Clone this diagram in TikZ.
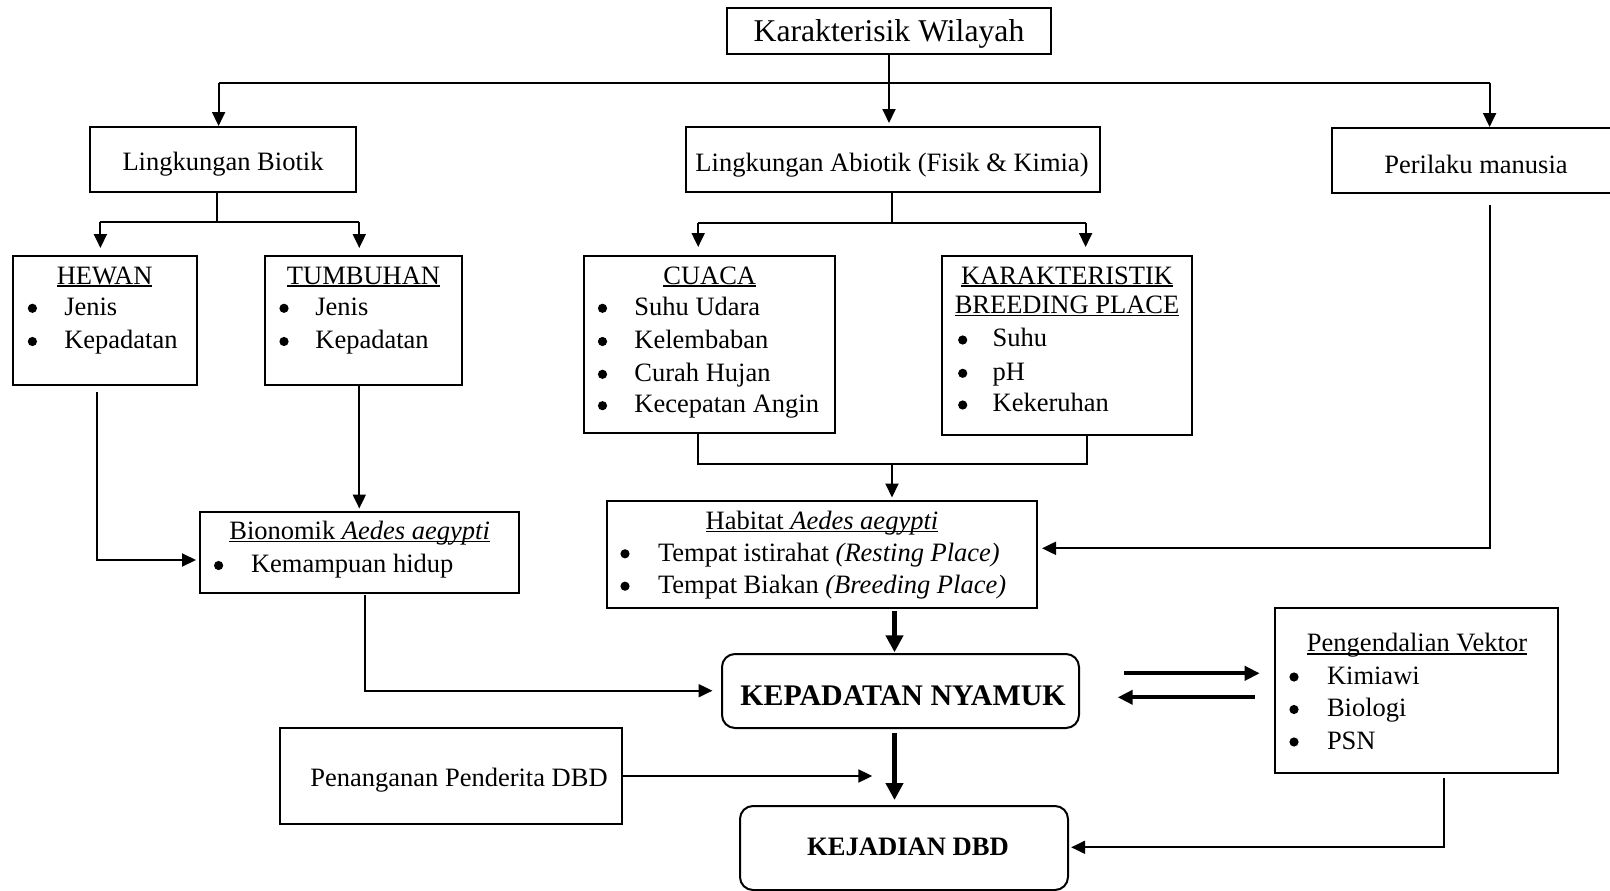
\documentclass[tikz,border=0pt]{standalone}
\usepackage{fontspec}
\setmainfont{Liberation Serif}
\usetikzlibrary{arrows.meta,fit}
\newcommand{\myul}[1]{\setbox0\hbox{#1}\rlap{\rule[-0.12em]{\wd0}{0.07em}}\box0}
\begin{document}
\begin{tikzpicture}[x=1pt,y=-1pt,
  box/.style={draw, line width=2pt, inner sep=0pt, outer sep=0pt},
  rbox/.style={box, rounded corners=13pt},
  txt/.style={inner sep=0pt, outer sep=0pt, anchor=base, font=\fontsize{26.5}{32}\selectfont},
  ltxt/.style={txt, anchor=base west},
  ln/.style={line width=2pt},
  arr/.style={line width=2pt, -{Triangle[length=14pt,width=13pt]}},
  thk/.style={line width=4.8pt, -{Triangle[length=17pt,width=17pt]}},
  thkh/.style={line width=4pt, -{Triangle[length=15pt,width=14pt]}}
]
\fill[white] (0,0) rectangle (1610,891);
\useasboundingbox (0,0) rectangle (1610,891);

% ---------- boxes ----------
\node[box, fit={(727,8)(1051,54)}] (title) {};
\node[box, fit={(90,127)(356,192)}] (biotik) {};
\node[box, fit={(686,127)(1100,192)}] (abiotik) {};
\node[box, fit={(1332,128)(1622,193)}] (perilaku) {};
\node[box, fit={(13,256)(197,385)}] (hewan) {};
\node[box, fit={(265,256)(462,385)}] (tumbuhan) {};
\node[box, fit={(584,256)(835,433)}] (cuaca) {};
\node[box, fit={(942,256)(1192,435)}] (karak) {};
\node[box, fit={(200,512)(519,593)}] (bionomik) {};
\node[box, fit={(607,501)(1037,608)}] (habitat) {};
\node[rbox, fit={(722,654)(1079,728)}] (kepadatan) {};
\node[box, fit={(1275,608)(1558,773)}] (pengendalian) {};
\node[box, fit={(280,728)(622,824)}] (penanganan) {};
\node[rbox, fit={(740,806)(1068,890)}] (kejadian) {};

% ---------- single-line texts ----------
\node[txt, font=\fontsize{31.7}{38}\selectfont] (t-title) at (889,42) {Karakterisik Wilayah};
\node[txt] (t-biotik) at (223,170) {Lingkungan Biotik};
\node[txt] (t-abiotik) at (892,171) {Lingkungan Abiotik (Fisik \& Kimia)};
\node[txt] (t-perilaku) at (1476,173) {Perilaku manusia};
\node[txt] (t-penanganan) at (459,786) {Penanganan Penderita DBD};
\node[txt, font=\fontsize{29.9}{36}\selectfont\bfseries] (t-kepadatan) at (903,705) {KEPADATAN NYAMUK};
\node[txt, font=\fontsize{26.6}{32}\selectfont\bfseries] (t-kejadian) at (908,855) {KEJADIAN DBD};

% ---------- list boxes ----------
\node[txt] (t-hewan) at (104.6,284) {\myul{HEWAN}};
\node[ltxt] (h1) at (64.3,315) {Jenis};
\node[ltxt] (h2) at (64.3,348.5) {Kepadatan};

\node[txt] (t-tumbuhan) at (363.5,284) {\myul{TUMBUHAN}};
\node[ltxt] (tb1) at (315.4,315) {Jenis};
\node[ltxt] (tb2) at (315.4,348.5) {Kepadatan};

\node[txt] (t-cuaca) at (709.7,284) {\myul{CUACA}};
\node[ltxt] (c1) at (634.4,315) {Suhu Udara};
\node[ltxt] (c2) at (634.4,348) {Kelembaban};
\node[ltxt] (c3) at (634.4,381) {Curah Hujan};
\node[ltxt] (c4) at (634.4,412.7) {Kecepatan Angin};

\node[txt] (t-karak1) at (1067,284) {\myul{KARAKTERISTIK}};
\node[txt] (t-karak2) at (1067,313.3) {\myul{BREEDING PLACE}};
\node[ltxt] (k1) at (992.7,346.7) {Suhu};
\node[ltxt] (k2) at (992.7,380) {pH};
\node[ltxt] (k3) at (992.7,411.7) {Kekeruhan};

\node[txt] (t-bionomik) at (359.6,539.3) {\myul{Bionomik \textit{Aedes aegypti}}};
\node[ltxt] (b1) at (251,572.7) {Kemampuan hidup};

\node[txt] (t-habitat) at (822,529.3) {\myul{Habitat \textit{Aedes aegypti}}};
\node[ltxt] (hb1) at (658,561) {Tempat istirahat \textit{(Resting Place)}};
\node[ltxt] (hb2) at (658,593.3) {Tempat Biakan \textit{(Breeding Place)}};

\node[txt] (t-pengendalian) at (1417,651.7) {\myul{Pengendalian Vektor}};
\node[ltxt] (p1) at (1327,684.3) {Kimiawi};
\node[ltxt] (p2) at (1327,716.7) {Biologi};
\node[ltxt] (p3) at (1327,749.3) {PSN};

% bullets
\foreach \bx/\by in {32.4/308.3, 32.4/341.5, 284/308.3, 284/341.5,
  602.5/308.3, 602.5/341.5, 602.5/374.3, 602.5/405.7,
  962.7/340, 962.7/373.3, 962.7/405,
  218.6/565.5, 625/553.8, 625/586.2,
  1294/677, 1294/709.5, 1294/742}
  \fill (\bx,\by) circle (4.6pt);

% ---------- connectors ----------
\coordinate (hl) at (218.6,83);
\coordinate (hr) at (1489.6,83);
\draw[ln] (hl) -- (hr);
\draw[arr, shorten >=1pt] (hl) -- (hl |- biotik.north);
\draw[arr, shorten >=4pt] (title.south) -- (title.south |- abiotik.north);
\draw[arr, shorten >=1pt] (hr) -- (hr |- perilaku.north);

\coordinate (bj) at (217,222);
\coordinate (bl) at (100.4,222);
\coordinate (br) at (359.3,222);
\draw[ln] (bj |- biotik.south) -- (bj);
\draw[ln] (bl) -- (br);
\draw[arr, shorten >=8pt] (bl) -- (bl |- hewan.north);
\draw[arr, shorten >=8pt] (br) -- (br |- tumbuhan.north);

\coordinate (aj) at (892,223.3);
\coordinate (al) at (698.2,223.3);
\coordinate (ar) at (1085.6,223.3);
\draw[ln] (aj |- abiotik.south) -- (aj);
\draw[ln] (al) -- (ar);
\draw[arr, shorten >=9pt] (al) -- (al |- cuaca.north);
\draw[arr, shorten >=9pt] (ar) -- (ar |- karak.north);

\coordinate (jl) at (698.2,464);
\coordinate (jr) at (1086.7,464);
\coordinate (jm) at (892,464);
\draw[ln] (jl |- cuaca.south) -- (jl) -- (jr) -- (jr |- karak.south);
\draw[arr, shorten >=3.5pt] (jm) -- (jm |- habitat.north);

\coordinate (pc) at (1489.6,548.3);
\draw[arr, shorten <=12pt, shorten >=5pt] (pc |- perilaku.south) -- (pc) -- (pc -| habitat.east);

\coordinate (hc) at (97.3,560);
\draw[arr, shorten <=6.7pt, shorten >=4pt] (hc |- hewan.south) -- (hc) -- (hc -| bionomik.west);

\coordinate (tc) at (359.3,450);
\draw[arr, shorten >=3.5pt] (tc |- tumbuhan.south) -- (tc |- bionomik.north);

\coordinate (bc) at (364.5,690.7);
\draw[arr, shorten <=2pt, shorten >=9.5pt] (bc |- bionomik.south) -- (bc) -- (bc -| kepadatan.west);

\coordinate (kc) at (894.5,690);
\draw[thk, shorten <=2.7pt, shorten >=1.7pt] (kc |- habitat.south) -- (kc |- kepadatan.north);
\draw[thk, shorten <=4.7pt, shorten >=6pt] (kc |- kepadatan.south) -- (kc |- kejadian.north);

\coordinate (u1) at (1200,673.3);
\coordinate (l1) at (1200,697.3);
\draw[thkh, shorten <=45.4pt, shorten >=15.3pt] (kepadatan.east |- u1) -- (pengendalian.west |- u1);
\draw[thkh, shorten <=20.5pt, shorten >=38.7pt] (pengendalian.west |- l1) -- (kepadatan.east |- l1);

\coordinate (pe) at (872.3,776);
\draw[arr] (penanganan.east |- pe) -- (pe);

\coordinate (gc) at (1444,847.3);
\draw[arr, shorten <=5.3pt, shorten >=3.2pt] (gc |- pengendalian.south) -- (gc) -- (gc -| kejadian.east);
\end{tikzpicture}
\end{document}
